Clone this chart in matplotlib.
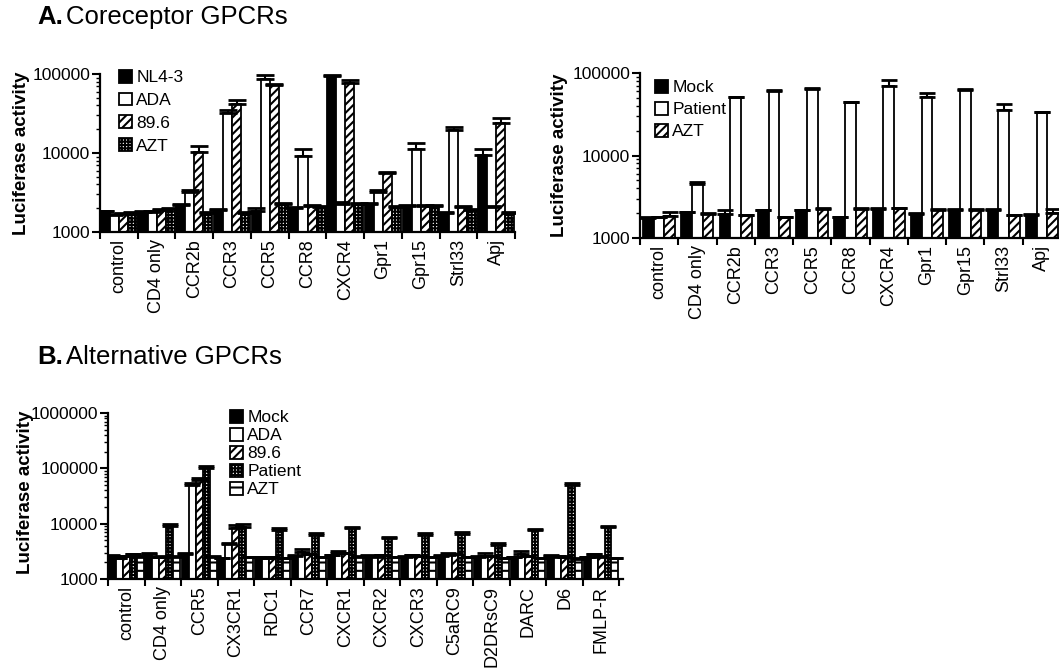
import numpy as np
import matplotlib
matplotlib.use('Agg')
import matplotlib.pyplot as plt
from matplotlib.ticker import FixedLocator, LogLocator, NullFormatter

plt.rcParams['font.family'] = ['Liberation Sans', 'DejaVu Sans']
plt.rcParams['hatch.linewidth'] = 1.5

# ---- Panel A, left: coreceptor GPCRs, lab strains ----
cats_a = ['control', 'CD4 only', 'CCR2b', 'CCR3', 'CCR5', 'CCR8',
          'CXCR4', 'Gpr1', 'Gpr15', 'Strl33', 'Apj']
nl43 = [1830, 1790, 2180, 1920, 1850, 2030, 95000, 2240, 2140, 1740, 9400]
nl43_sd = [40, 40, 60, 50, 170, 50, 2000, 60, 50, 40, 1700]
ada = [1630, 1790, 3200, 31700, 85500, 9100, 2290, 3200, 11100, 19500, 2080]
ada_sd = [40, 40, 200, 3200, 11500, 2200, 80, 200, 2400, 2000, 60]
v896 = [1710, 1920, 10400, 41200, 72000, 2120, 76000, 5600, 2140, 2080, 23700]
v896_sd = [40, 60, 2000, 5600, 3500, 50, 8000, 200, 50, 50, 4200]
azt_a = [1760, 1980, 1740, 1740, 2240, 2080, 2240, 2080, 2140, 1920, 1760]
azt_a_sd = [40, 50, 40, 40, 100, 50, 100, 40, 40, 50, 40]

# ---- Panel A, right: coreceptor GPCRs, patient virus ----
mock_r = [1750, 2050, 1950, 2160, 2160, 1780, 2250, 1970, 2200, 2200, 1920]
mock_r_sd = [30, 40, 250, 40, 40, 30, 40, 40, 40, 40, 30]
patient_r = [1780, 4500, 50600, 61000, 64500, 44000, 70000, 50700, 62800, 36000, 33300]
patient_r_sd = [30, 230, 1000, 1000, 1000, 1000, 11400, 6600, 1000, 6500, 800]
azt_r = [1830, 1950, 1880, 1780, 2250, 2250, 2290, 2200, 2200, 1880, 2010]
azt_r_sd = [220, 40, 30, 30, 40, 40, 40, 40, 40, 30, 240]

# ---- Panel B: alternative GPCRs ----
cats_b = ['control', 'CD4 only', 'CCR5', 'CX3CR1', 'RDC1', 'CCR7', 'CXCR1',
          'CXCR2', 'CXCR3', 'C5aRC9', 'D2DRsC9', 'DARC', 'D6', 'FMLP-R']
mock_b = [2600, 2830, 2790, 2360, 2460, 2600, 2700, 2600, 2530, 2600, 2530, 2460, 2600, 2460]
mock_b_sd = [60, 60, 100, 60, 60, 60, 60, 60, 60, 60, 60, 60, 60, 60]
ada_b = [2360, 2460, 50000, 4300, 2360, 3120, 2910, 2530, 2700, 2700, 2600, 2800, 2530, 2790]
ada_b_sd = [40, 40, 5000, 150, 40, 300, 300, 40, 40, 290, 310, 450, 40, 40]
v896_b = [2600, 2530, 61000, 8200, 2460, 2790, 2910, 2700, 2600, 2830, 2600, 2600, 2530, 2530]
v896_b_sd = [40, 40, 5000, 1250, 40, 40, 40, 40, 40, 40, 40, 40, 40, 40]
patient_b = [2790, 9100, 100000, 8800, 7700, 6240, 8240, 5440, 6240, 6500, 4110, 7680, 50000, 8800]
patient_b_sd = [50, 770, 10000, 1070, 800, 460, 580, 380, 460, 670, 420, 420, 3800, 100]
azt_b = [2530, 2530, 2460, 2460, 2360, 2460, 2530, 2460, 2460, 2460, 2360, 2360, 2330, 2360]
azt_b_sd = [40, 40, 100, 40, 40, 40, 40, 40, 40, 40, 40, 40, 40, 40]

W, H = 1059, 669
fig = plt.figure(figsize=(W / 100, H / 100), dpi=100)


def px_axes(x0, y0, x1, y1):
    # pixel box (top-left origin) -> figure axes
    return fig.add_axes([x0 / W, 1 - y1 / H, (x1 - x0) / W, (y1 - y0) / H])


STYLES = {
    'black': dict(facecolor='black', hatch=None),
    'white': dict(facecolor='white', hatch=None),
    'diag': dict(facecolor='white', hatch='////'),
    'grid': dict(facecolor='white', hatch='+++++'),
    'hline': dict(facecolor='white', hatch='--'),
}


def grouped_bars(ax, series, sds, labels, styles, width, capsize):
    n = len(series)
    x = np.arange(len(series[0]))
    for i, (vals, sd, lab, st) in enumerate(zip(series, sds, labels, styles)):
        off = (i - (n - 1) / 2) * width
        ax.bar(x + off, vals, width, edgecolor='black', linewidth=1.3,
               label=lab, zorder=2, **STYLES[st])
        ax.errorbar(x + off, vals, yerr=[np.zeros(len(sd)), sd], fmt='none',
                    ecolor='black', elinewidth=1.5, capsize=capsize,
                    capthick=2, zorder=3)


def style_axes(ax, cats, ymax, xmax=None):
    n = len(cats)
    ax.set_yscale('log')
    ax.set_ylim(1000, ymax)
    ax.set_xlim(-0.5, n - 0.5 if xmax is None else xmax)
    decades = [10 ** k for k in range(3, int(round(np.log10(ymax))) + 1)]
    ax.yaxis.set_major_locator(FixedLocator(decades))
    ax.set_yticklabels([str(d) for d in decades], fontsize=12.5)
    ax.yaxis.set_minor_locator(LogLocator(base=10, subs=np.arange(2, 10)))
    ax.yaxis.set_minor_formatter(NullFormatter())
    ax.tick_params(axis='y', which='major', length=6, width=1.5, pad=1)
    ax.tick_params(axis='y', which='minor', length=3, width=1)
    ax.set_xticks(np.arange(n + 1) - 0.5)
    ax.set_xticklabels([])
    ax.set_xticks(np.arange(n), cats, minor=True, rotation=90, fontsize=13)
    ax.tick_params(axis='x', which='major', length=5, width=1.5)
    ax.tick_params(axis='x', which='minor', length=0, pad=5)
    for s in ['top', 'right']:
        ax.spines[s].set_visible(False)
    for s in ['left', 'bottom']:
        ax.spines[s].set_linewidth(1.6)


def legend_at(ax, x, y, spacing):
    ax.legend(loc='upper left', bbox_to_anchor=(x / W, 1 - y / H),
              bbox_transform=fig.transFigure, frameon=False, fontsize=12.5,
              handlelength=0.75, handleheight=0.75, handletextpad=0.25,
              labelspacing=spacing, borderpad=0, borderaxespad=0)


# Panel A left
ax1 = px_axes(100, 74, 515, 232)
grouped_bars(ax1, [nl43, ada, v896, azt_a], [nl43_sd, ada_sd, v896_sd, azt_a_sd],
             ['NL4-3', 'ADA', '89.6', 'AZT'], ['black', 'white', 'diag', 'grid'],
             0.24, 6.5)
style_axes(ax1, cats_a, 100000)
legend_at(ax1, 119, 70, 0.42)

# Panel A right
ax2 = px_axes(640, 73, 1061, 238)
grouped_bars(ax2, [mock_r, patient_r, azt_r], [mock_r_sd, patient_r_sd, azt_r_sd],
             ['Mock', 'Patient', 'AZT'], ['black', 'white', 'diag'], 0.28, 6)
style_axes(ax2, cats_a, 100000)
legend_at(ax2, 655, 80, 0.38)

# Panel B
ax3 = px_axes(108, 413, 623, 579)
grouped_bars(ax3, [mock_b, ada_b, v896_b, patient_b, azt_b],
             [mock_b_sd, ada_b_sd, v896_b_sd, patient_b_sd, azt_b_sd],
             ['Mock', 'ADA', '89.6', 'Patient', 'AZT'],
             ['black', 'white', 'diag', 'grid', 'hline'], 0.19, 6)
style_axes(ax3, cats_b, 1000000, xmax=13.6)
legend_at(ax3, 230, 410, 0.15)

# y labels
for xp, yp in [(22, 153), (560, 155), (26, 492)]:
    fig.text(xp / W, 1 - yp / H, 'Luciferase activity', rotation=90,
             ha='center', va='center', fontsize=13.5, fontweight='bold')

# panel titles
for yp, letter, title in [(17, 'A.', 'Coreceptor GPCRs'), (357, 'B.', 'Alternative GPCRs')]:
    fig.text(37 / W, 1 - yp / H, letter, ha='left', va='center',
             fontsize=18.5, fontweight='bold')
    fig.text(66 / W, 1 - yp / H, title, ha='left', va='center', fontsize=18.5)

fig.savefig('out.png', dpi=100)
